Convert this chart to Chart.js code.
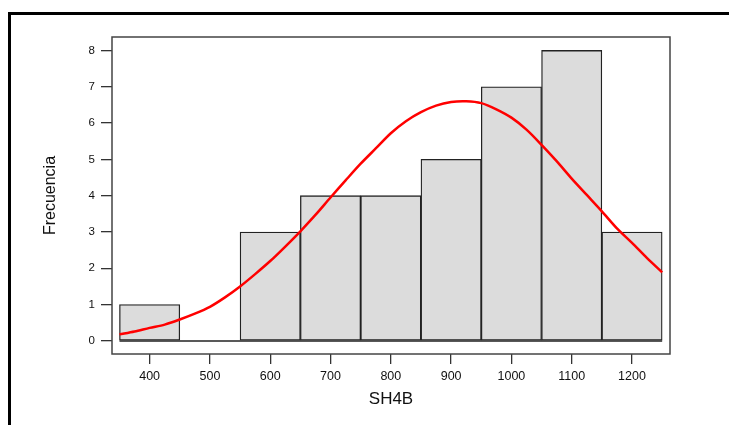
<!DOCTYPE html>
<html>
<head>
<meta charset="utf-8">
<script src="https://cdn.jsdelivr.net/npm/chart.js@4/dist/chart.umd.min.js"></script>
<style>
  html, body { margin: 0; padding: 0; background: #fff; overflow: hidden; }
  #grafico { display: block; }
</style>
</head>
<body>
<canvas id="grafico" width="729" height="425"></canvas>
<script>
// histograma de SH4B: centros de clase (ancho 100) y frecuencias
const centros = [400, 500, 600, 700, 800, 900, 1000, 1100, 1200];
const frecuencias = [1, 0, 3, 4, 4, 5, 7, 8, 3];

// curva normal ajustada, leida punto a punto
const curvaX = [350, 375, 400, 425, 450, 475, 500, 525, 550, 575, 600, 625, 650, 675, 700, 725, 750, 775, 800, 825, 850, 875, 900, 925, 950, 975, 1000, 1025, 1050, 1075, 1100, 1125, 1150, 1175, 1200, 1225, 1250];
const curvaY = [0.18, 0.26, 0.36, 0.45, 0.59, 0.75, 0.94, 1.2, 1.5, 1.84, 2.2, 2.6, 3.02, 3.47, 3.95, 4.42, 4.88, 5.3, 5.72, 6.05, 6.3, 6.48, 6.58, 6.6, 6.55, 6.38, 6.15, 5.82, 5.4, 4.95, 4.47, 4.02, 3.57, 3.1, 2.7, 2.28, 1.89];

const ticksX = [400, 500, 600, 700, 800, 900, 1000, 1100, 1200];
const ticksY = [0, 1, 2, 3, 4, 5, 6, 7, 8];
const bordesClase = [350, 1250];

const datosBarras = centros.map((c, i) => ({ x: c, y: frecuencias[i] }));
const datosCurva = curvaX.map((x, i) => ({ x: x, y: curvaY[i] }));

// marco exterior, caja del grafico y linea base del histograma
const marco = {
  id: "marco",
  beforeDraw(chart) {
    const ctx = chart.ctx;
    ctx.save();
    ctx.strokeStyle = "#000";
    ctx.lineWidth = 3;
    ctx.strokeRect(9.5, 13.5, 900, 600);
    ctx.restore();
  },
  afterDatasetsDraw(chart) {
    const { ctx, chartArea, scales } = chart;
    ctx.save();
    ctx.strokeStyle = "#222";
    ctx.lineWidth = 1.5;
    const y0 = scales.y.getPixelForValue(0);
    ctx.beginPath();
    ctx.moveTo(scales.x.getPixelForValue(bordesClase[0]), y0);
    ctx.lineTo(scales.x.getPixelForValue(bordesClase[1]), y0);
    ctx.stroke();
    ctx.strokeStyle = "#444";
    ctx.strokeRect(chartArea.left, chartArea.top, chartArea.right - chartArea.left, chartArea.bottom - chartArea.top);
    ctx.restore();
  },
};

const ctx = document.getElementById("grafico");
new Chart(ctx, {
  data: {
    datasets: [
      {
        type: "line",
        data: datosCurva,
        borderColor: "#ff0000",
        borderWidth: 2.5,
        pointRadius: 0,
        tension: 0.3,
        order: 0,
      },
      {
        type: "bar",
        data: datosBarras,
        backgroundColor: "#dcdcdc",
        borderColor: "#222",
        borderWidth: 1.3,
        borderSkipped: false,
        barPercentage: 1,
        categoryPercentage: 1,
        order: 1,
      },
    ],
  },
  options: {
    responsive: false,
    animation: false,
    layout: { padding: { top: 37, right: 59, left: 0, bottom: 0 } },
    plugins: {
      legend: { display: false },
      tooltip: { enabled: false },
    },
    scales: {
      x: {
        type: "linear",
        offset: false,
        min: 337.6,
        max: 1263,
        border: { display: false },
        grid: { offset: false, drawOnChartArea: false, drawTicks: true, tickLength: 10, color: "#333", lineWidth: 1.3 },
        ticks: {
          color: "#111",
          padding: 5,
          font: { family: "Liberation Sans, Arial", size: 12.5 },
          callback: (v) => String(v),
        },
        title: {
          display: true,
          text: "SH4B",
          color: "#111",
          font: { family: "Liberation Sans, Arial", size: 17 },
          padding: { top: 0, bottom: 15 },
        },
        afterBuildTicks(scale) {
          scale.ticks = ticksX.map((v) => ({ value: v }));
        },
        afterFit(scale) {
          scale.height = 71;
        },
      },
      y: {
        type: "linear",
        min: -0.36,
        max: 8.37,
        border: { display: false },
        grid: { drawOnChartArea: false, drawTicks: true, tickLength: 11, color: "#333", lineWidth: 1.3 },
        ticks: {
          color: "#111",
          padding: 6,
          font: { family: "Liberation Sans, Arial", size: 11.5 },
          callback: (v) => String(v),
        },
        title: {
          display: true,
          text: "Frecuencia",
          color: "#111",
          font: { family: "Liberation Sans, Arial", size: 16 },
          padding: { top: 41, bottom: 0 },
        },
        afterBuildTicks(scale) {
          scale.ticks = ticksY.map((v) => ({ value: v }));
        },
        afterFit(scale) {
          scale.width = 112;
        },
      },
    },
  },
  plugins: [marco],
});
</script>
</body>
</html>
